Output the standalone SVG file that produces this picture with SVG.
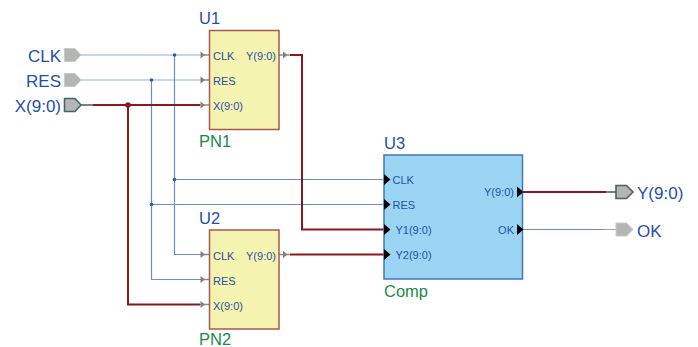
<svg xmlns="http://www.w3.org/2000/svg" width="698" height="347" viewBox="0 0 698 347">
<style>
text{font-family:"Liberation Sans",Arial,sans-serif;fill:#1f4fa5}
.lbl{font-size:17px}
.pn{font-size:11px}
.nm{font-size:16.5px}
.gn{font-size:16.5px;fill:#178a48}
.blk{fill:#f5f3b0;stroke:#a8584f;stroke-width:1.5}
.cmp{fill:#9cd5f4;stroke:#4377bb;stroke-width:1.5}
.pin{fill:#b5b5b5;stroke:#c2cdc4;stroke-width:1}
.pinb{fill:#b5b5b5;stroke:#46675f;stroke-width:1.6}
.w{fill:none;stroke:#6a8fcf;stroke-width:1.2}
.wl{fill:none;stroke:#b5c8e6;stroke-width:1.6}
.b{fill:none;stroke:#861a1e;stroke-width:2}
.g{fill:none;stroke:#8c8c8c;stroke-width:1.5}
.ga{fill:#808080}
.ba{fill:#000}
</style>
<g id="connectors">
<path class="wl" d="M81 55H201"/><path class="wl" d="M81 80H201"/>
<path class="w" d="M174.500 55V254.500H201"/>
<path class="w" d="M151.500 80V279.500H201"/>
<path class="w" d="M174.500 179.500H384"/>
<path class="w" d="M151.500 204.500H384"/>
<path d="M81 105H93" fill="none" stroke="#46675f" stroke-width="1.600"/>
<path class="b" d="M93 105H200"/>
<path class="b" d="M128 105V304.500H200"/>
<path class="b" d="M290 55H302V229.500H384"/>
<path class="b" d="M290 254.500H384"/>
<path class="b" d="M522 192H606"/>
<path d="M606 192H616" fill="none" stroke="#46675f" stroke-width="1.600"/>
<path class="w" d="M522 229.500H604"/>
<path d="M604 229.500H616" fill="none" stroke="#a5a5a5" stroke-width="1"/>
<path class="g" d="M200 105H209M200 304.500H209M279 55H290M279 254.500H290"/>
<path class="g" stroke-width="1" d="M201 55H209M201 80H209M201 254.500H209M201 279.500H209"/>
<circle cx="174.500" cy="55" r="1.800" fill="#2f5cab"/>
<circle cx="151.500" cy="80" r="1.800" fill="#2f5cab"/>
<circle cx="174.500" cy="179.500" r="1.800" fill="#2f5cab"/>
<circle cx="151.500" cy="204.500" r="1.800" fill="#2f5cab"/>
<circle cx="128" cy="105" r="2.800" fill="#861a1e"/>
</g>
<g id="CLK"><path class="pin" d="M64.500 48.500H75L81 55L75 61.500H64.500Z"/><text class="lbl" x="61" y="61.500" text-anchor="end">CLK</text></g>
<g id="RES"><path class="pin" d="M64.500 73.500H75L81 80L75 86.500H64.500Z"/><text class="lbl" x="61" y="86.500" text-anchor="end">RES</text></g>
<g id="X"><path class="pinb" d="M64.500 98.500H75L81 105L75 111.500H64.500Z"/><text class="lbl" x="61" y="111.500" text-anchor="end">X(9:0)</text></g>
<g id="Y"><path class="pinb" d="M616 185.500H626.500L633 192L626.500 198.500H616Z"/><text class="lbl" x="637" y="199">Y(9:0)</text></g>
<g id="OK"><path class="pin" d="M616 223H626.500L633 229.500L626.500 236H616Z"/><text class="lbl" x="637" y="236.500">OK</text></g>
<g id="U1">
<rect class="blk" x="209.500" y="30.500" width="69.500" height="99"/>
<path class="ga" d="M200.500 51.500L205 55L200.500 58.500ZM200.500 76.500L205 80L200.500 83.500ZM200.500 101.500L205 105L200.500 108.500ZM283 51.500L287.500 55L283 58.500Z"/>
<text class="nm" x="199" y="24">U1</text>
<text class="pn" x="213" y="60">CLK</text><text class="pn" x="213" y="85">RES</text><text class="pn" x="213" y="110">X(9:0)</text>
<text class="pn" x="276" y="60" text-anchor="end">Y(9:0)</text>
<text class="gn" x="199" y="147">PN1</text>
</g>
<g id="U2">
<rect class="blk" x="209.500" y="230" width="69.500" height="99"/>
<path class="ga" d="M200.500 251L205 254.500L200.500 258ZM200.500 276L205 279.500L200.500 283ZM200.500 301L205 304.500L200.500 308ZM283 251L287.500 254.500L283 258Z"/>
<text class="nm" x="199" y="224">U2</text>
<text class="pn" x="213" y="259.500">CLK</text><text class="pn" x="213" y="284.500">RES</text><text class="pn" x="213" y="309.500">X(9:0)</text>
<text class="pn" x="276" y="259.500" text-anchor="end">Y(9:0)</text>
<text class="gn" x="199" y="345">PN2</text>
</g>
<g id="U3">
<rect class="cmp" x="384" y="155" width="138.500" height="124"/>
<path class="ba" d="M384 174L390.500 179.500L384 185ZM384 199L390.500 204.500L384 210ZM384 224L390.500 229.500L384 235ZM384 249L390.500 254.500L384 260ZM517 186.500L523.500 192L517 197.500ZM517 224L523.500 229.500L517 235Z"/>
<text class="nm" x="384" y="149">U3</text>
<text class="pn" x="392.500" y="183.500">CLK</text><text class="pn" x="392.500" y="208.500">RES</text>
<text class="pn" x="395.500" y="233.500">Y1(9:0)</text><text class="pn" x="395.500" y="258.500">Y2(9:0)</text>
<text class="pn" x="514" y="196" text-anchor="end">Y(9:0)</text>
<text class="pn" x="514" y="233.500" text-anchor="end">OK</text>
<text class="gn" x="384" y="297">Comp</text>
</g>
</svg>
